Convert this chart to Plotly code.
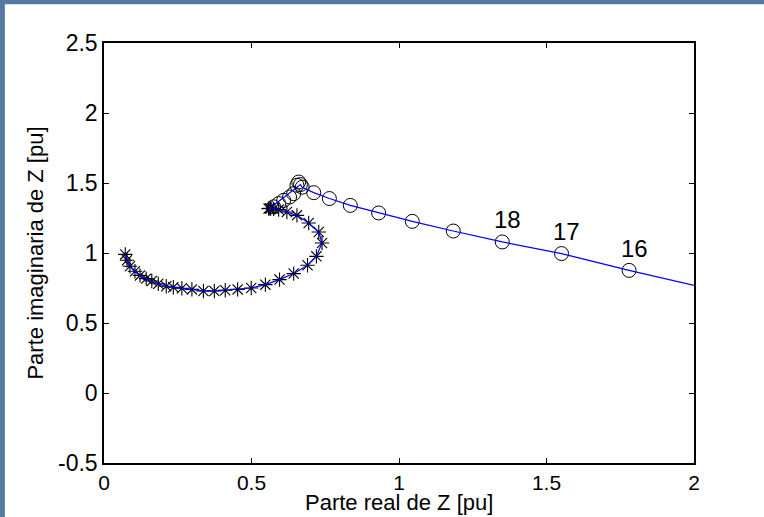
import plotly.graph_objects as go

# Asterisk-marked points (real, imaginary parts of Z)
ast_x = [0.072, 0.078, 0.088, 0.105, 0.122, 0.143, 0.162, 0.184, 0.211, 0.235,
         0.264, 0.298, 0.337, 0.374, 0.411, 0.453, 0.499, 0.547, 0.595, 0.643,
         0.690, 0.720, 0.739, 0.728, 0.694, 0.654, 0.620, 0.592, 0.575, 0.565,
         0.558, 0.562]
ast_y = [0.990, 0.948, 0.905, 0.870, 0.840, 0.817, 0.800, 0.780, 0.762, 0.755,
         0.748, 0.740, 0.729, 0.729, 0.734, 0.740, 0.750, 0.774, 0.810, 0.853,
         0.912, 0.976, 1.071, 1.150, 1.214, 1.269, 1.293, 1.310, 1.315, 1.318,
         1.317, 1.320]

# Circle-marked points
circ_x = [0.575, 0.592, 0.609, 0.629, 0.643, 0.654, 0.660, 0.666, 0.672, 0.711,
          0.764, 0.835, 0.931, 1.045, 1.184, 1.350, 1.551, 1.780]
circ_y = [1.330, 1.353, 1.376, 1.400, 1.424, 1.484, 1.507, 1.489, 1.470, 1.431,
          1.389, 1.340, 1.286, 1.226, 1.157, 1.079, 0.996, 0.876]

# Continuation of the curve past the last circle
tail_x = [2.05]
tail_y = [0.745]

# Labels on the last three circles
label_text = ["18", "17", "16"]
label_idx = [15, 16, 17]

x_ticks = [0, 0.5, 1, 1.5, 2]
y_ticks = [-0.5, 0, 0.5, 1, 1.5, 2, 2.5]

x_title = "Parte real de Z [pu]"
y_title = "Parte imaginaria de Z [pu]"

line_x = ast_x + circ_x[7:] + tail_x
line_y = ast_y + circ_y[7:] + tail_y

FONT = "Liberation Sans, Arial, sans-serif"

fig = go.Figure()
fig.add_trace(go.Scatter(x=circ_x, y=circ_y, mode="markers",
                         marker=dict(symbol="circle-open", size=14, color="black",
                                     line=dict(width=1, color="black")),
                         hoverinfo="x+y"))
fig.add_trace(go.Scatter(x=ast_x, y=ast_y, mode="markers",
                         marker=dict(symbol="asterisk-open", size=12, color="black",
                                     line=dict(width=1.1, color="black")),
                         hoverinfo="x+y"))
fig.add_trace(go.Scatter(x=line_x, y=line_y, mode="lines",
                         line=dict(color="#0000ff", width=1.2),
                         hoverinfo="skip"))

for t, i in zip(label_text, label_idx):
    fig.add_annotation(x=circ_x[i], y=circ_y[i], text=t, showarrow=False,
                       xshift=5, yshift=22, font=dict(size=24, color="black", family=FONT))

# x-axis title placed just under the tick labels
fig.add_annotation(x=0.5, y=-0.1262, xref="paper", yref="paper", text=x_title,
                   showarrow=False, xanchor="center", yanchor="bottom",
                   borderpad=0, font=dict(size=22, color="black", family=FONT))

# slide background strips (top and left)
fig.add_shape(type="rect", xref="paper", yref="paper", x0=-0.2, x1=1.2,
              y0=1.092, y1=1.12, fillcolor="#5679a3", line=dict(width=0), layer="below")
fig.add_shape(type="rect", xref="paper", yref="paper", x0=-0.2, x1=-0.168,
              y0=-0.2, y1=1.12, fillcolor="#5679a3", line=dict(width=0), layer="below")

axis_common = dict(showgrid=False, zeroline=False, showline=True, linecolor="black",
                   linewidth=1.5, mirror="ticks", ticks="inside", ticklen=5,
                   tickcolor="black", tickwidth=1, automargin=False)

fig.update_layout(
    width=764, height=517,
    margin=dict(l=104, r=70, t=43, b=54),
    paper_bgcolor="white", plot_bgcolor="white",
    showlegend=False,
    xaxis=dict(range=[0, 2], tickvals=x_ticks, ticktext=[f"{v:g}" for v in x_ticks],
               tickfont=dict(size=21, color="black", family=FONT),
               **axis_common),
    yaxis=dict(range=[-0.5, 2.5], tickvals=y_ticks, ticktext=[f"{v:g}" for v in y_ticks],
               tickfont=dict(size=23, color="black", family=FONT),
               title=dict(text=y_title, standoff=8,
                          font=dict(size=22, color="black", family=FONT)),
               **axis_common),
)

fig.write_html("out.html")
